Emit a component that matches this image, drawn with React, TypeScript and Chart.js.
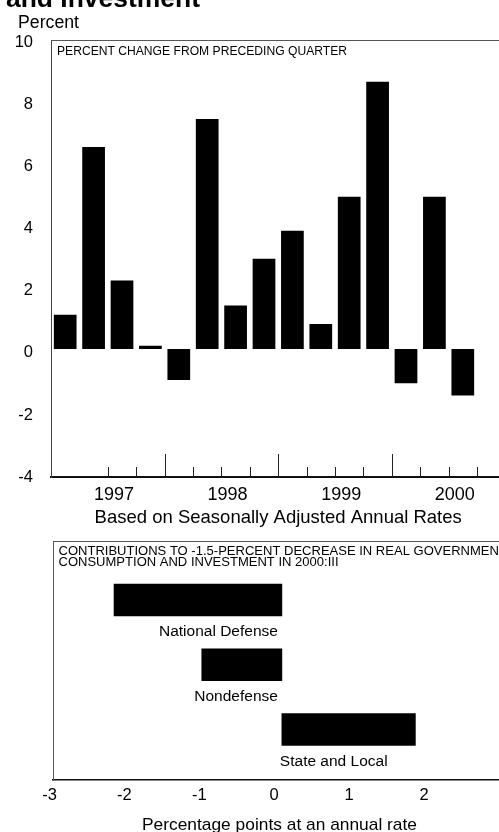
import React, { useEffect, useRef } from 'react';
import { Chart, registerables } from 'chart.js';

Chart.register(...registerables);

const FONT = '"Liberation Sans", Arial, Helvetica, sans-serif';

// ---------- data: top panel ----------
const years = ['1997', '1998', '1999', '2000'];
const quarters = ['I', 'II', 'III', 'IV'];
const quarterLabels = years.flatMap((y) => quarters.map((q) => `${y}:${q}`));
const pctChange = [1.1, 6.5, 2.2, 0.1, -1.0, 7.4, 1.4, 2.9, 3.8, 0.8, 4.9, 8.6, -1.1, 4.9, -1.5];
const yTicks = [-4, -2, 0, 2, 4, 6, 8, 10];

// ---------- data: bottom panel ----------
const components = ['National Defense', 'Nondefense', 'State and Local'];
const contributions = [-2.2, -1.05, 1.75];
const xTicks = [-3, -2, -1, 0, 1, 2];

// ---------- texts ----------
const headline = 'and Investment';
const yUnit = 'Percent';
const topPanelTitle = 'PERCENT CHANGE FROM PRECEDING QUARTER';
const topAxisTitle = 'Based on Seasonally Adjusted Annual Rates';
const bottomPanelTitle = [
  'CONTRIBUTIONS TO -1.5-PERCENT DECREASE IN REAL GOVERNMENT',
  'CONSUMPTION AND INVESTMENT IN 2000:III',
];
const bottomAxisTitle = 'Percentage points at an annual rate';

function fitText(
  ctx: CanvasRenderingContext2D,
  text: string,
  x: number,
  y: number,
  font: string,
  width: number | null,
  align: 'left' | 'center' | 'right' = 'left',
  forcedScale?: number
): number {
  ctx.save();
  ctx.font = font;
  ctx.textBaseline = 'alphabetic';
  ctx.textAlign = 'left';
  const w = ctx.measureText(text).width;
  const s = forcedScale !== undefined ? forcedScale : width ? width / w : 1;
  const tw = w * s;
  let x0 = x;
  if (align === 'center') x0 = x - tw / 2;
  else if (align === 'right') x0 = x - tw;
  ctx.translate(x0, y);
  ctx.scale(s, 1);
  ctx.fillStyle = '#000';
  ctx.fillText(text, 0, 0);
  ctx.restore();
  return s;
}

const topDecor = {
  id: 'topDecor',
  afterDraw(chart: any) {
    const { ctx, chartArea, scales } = chart;
    const xs = scales.x;
    ctx.save();
    ctx.strokeStyle = '#555';
    ctx.lineWidth = 1;
    ctx.beginPath();
    ctx.moveTo(chartArea.left, chartArea.top + 0.5);
    ctx.lineTo(chart.width, chartArea.top + 0.5);
    ctx.stroke();
    ctx.strokeStyle = '#222';
    ctx.lineWidth = 1;
    for (let i = 2; i < quarterLabels.length; i++) {
      const x = Math.round(xs.getPixelForValue(i - 0.5)) + 0.5;
      const len = i % 4 === 0 ? 23 : 10;
      ctx.beginPath();
      ctx.moveTo(x, chartArea.bottom);
      ctx.lineTo(x, chartArea.bottom - len);
      ctx.stroke();
    }
    ctx.restore();
    fitText(ctx, headline, 6, 7, `bold 26px ${FONT}`, 194);
    fitText(ctx, yUnit, 18, 28, `17.5px ${FONT}`, 61);
    fitText(ctx, topPanelTitle, 57, 55, `12.5px ${FONT}`, 290);
  },
};

const bottomDecor = {
  id: 'bottomDecor',
  afterDraw(chart: any) {
    const { ctx, chartArea, scales } = chart;
    const xs = scales.x;
    const ys = scales.y;
    ctx.save();
    ctx.strokeStyle = '#555';
    ctx.lineWidth = 1;
    ctx.beginPath();
    ctx.moveTo(chartArea.left, chartArea.top + 0.5);
    ctx.lineTo(chart.width, chartArea.top + 0.5);
    ctx.stroke();
    ctx.restore();

    const s = fitText(ctx, bottomPanelTitle[1], 58.5, 36, `12.8px ${FONT}`, 280);
    fitText(ctx, bottomPanelTitle[0], 58.5, 25, `12.8px ${FONT}`, null, 'left', s);

    const x0 = xs.getPixelForValue(0);
    ctx.save();
    ctx.font = `15.5px ${FONT}`;
    ctx.fillStyle = '#000';
    ctx.textBaseline = 'alphabetic';
    components.forEach((name, i) => {
      const yc = ys.getPixelForValue(i);
      const baseline = yc + 16 + 20.5;
      if (contributions[i] < 0) {
        ctx.textAlign = 'right';
        ctx.fillText(name, x0 - 4, baseline);
      } else {
        ctx.textAlign = 'left';
        ctx.fillText(name, x0 - 2, baseline);
      }
    });
    ctx.restore();

    fitText(ctx, bottomAxisTitle, 279.5, 300, `17px ${FONT}`, 275, 'center');
  },
};

export default function App() {
  const topRef = useRef<HTMLCanvasElement>(null);
  const botRef = useRef<HTMLCanvasElement>(null);

  useEffect(() => {
    const top = new Chart(topRef.current as HTMLCanvasElement, {
      type: 'bar',
      data: {
        labels: quarterLabels,
        datasets: [
          {
            data: pctChange,
            backgroundColor: '#000',
            borderWidth: 0,
            barPercentage: 0.8,
            categoryPercentage: 1.0,
          },
        ],
      },
      options: {
        animation: false,
        responsive: false,
        maintainAspectRatio: false,
        layout: { padding: { top: 40, right: 14.6, bottom: 0, left: 0 } },
        plugins: { legend: { display: false }, tooltip: { enabled: false } },
        scales: {
          x: {
            offset: true,
            grid: { display: false, drawTicks: false },
            border: { display: true, color: '#111', width: 2 },
            ticks: {
              autoSkip: false,
              maxRotation: 0,
              minRotation: 0,
              padding: 7,
              labelOffset: 20.4,
              color: '#000',
              font: { family: FONT, size: 18 },
              callback: (_v: any, i: number) =>
                quarterLabels[i].endsWith(':II') ? quarterLabels[i].split(':')[0] : '',
            },
            title: {
              display: true,
              text: topAxisTitle,
              color: '#000',
              font: { family: FONT, size: 18.5 },
              padding: { top: 0, bottom: 7 },
            },
            afterFit: (s: any) => {
              s.height = 59;
            },
          },
          y: {
            min: -4.12,
            max: 9.94,
            afterBuildTicks: (s: any) => {
              s.ticks = yTicks.map((v) => ({ value: v }));
            },
            grid: { display: false, drawTicks: false },
            border: { display: true, color: '#444', width: 1 },
            ticks: {
              padding: 18,
              labelOffset: 4,
              color: '#000',
              font: { family: FONT, size: 16.5 },
              callback: (v: any) => String(v),
            },
            afterFit: (s: any) => {
              s.width = 51;
            },
          },
        },
      } as any,
      plugins: [topDecor],
    });

    const bottom = new Chart(botRef.current as HTMLCanvasElement, {
      type: 'bar',
      data: {
        datasets: [
          {
            data: contributions.map((v, i) => ({ x: v, y: i })),
            backgroundColor: '#000',
            borderWidth: 0,
            barThickness: 32,
          },
        ],
      },
      options: {
        indexAxis: 'y',
        animation: false,
        responsive: false,
        maintainAspectRatio: false,
        layout: { padding: { top: 11, right: 14, bottom: 0, left: 0 } },
        plugins: { legend: { display: false }, tooltip: { enabled: false } },
        scales: {
          x: {
            type: 'linear',
            position: 'bottom',
            weight: 0,
            min: -3,
            max: 3.2,
            grid: { display: false, drawTicks: false },
            border: { display: true, color: '#111', width: 1.5 },
            ticks: { display: false },
            afterFit: (s: any) => {
              s.height = 0;
            },
          },
          xLabels: {
            type: 'linear',
            position: 'bottom',
            weight: 1,
            min: -2.953,
            max: 3.362,
            afterBuildTicks: (s: any) => {
              s.ticks = xTicks.map((v) => ({ value: v }));
            },
            grid: { display: false, drawTicks: false },
            border: { display: false },
            ticks: {
              padding: 6,
              color: '#000',
              font: { family: FONT, size: 16.5 },
              callback: (v: any) => String(v),
            },
            afterFit: (s: any) => {
              s.height = 52;
            },
          },
          y: {
            type: 'linear',
            reverse: true,
            offset: false,
            min: -0.911,
            max: 2.78,
            grid: { display: false, drawTicks: false, offset: false },
            border: { display: true, color: '#555', width: 1 },
            ticks: { display: false },
            afterFit: (s: any) => {
              s.width = 53;
            },
          },
        },
      } as any,
      plugins: [bottomDecor],
    });

    return () => {
      top.destroy();
      bottom.destroy();
    };
  }, []);

  return (
    <div
      style={{
        position: 'absolute',
        left: 0,
        top: 0,
        width: 499,
        height: 832,
        overflow: 'hidden',
        background: '#fff',
      }}
    >
      <canvas
        ref={topRef}
        width={520}
        height={536}
        style={{ position: 'absolute', left: 0, top: 0, width: 520, height: 536 }}
      />
      <canvas
        ref={botRef}
        width={540}
        height={302}
        style={{ position: 'absolute', left: 0, top: 530, width: 540, height: 302 }}
      />
    </div>
  );
}
